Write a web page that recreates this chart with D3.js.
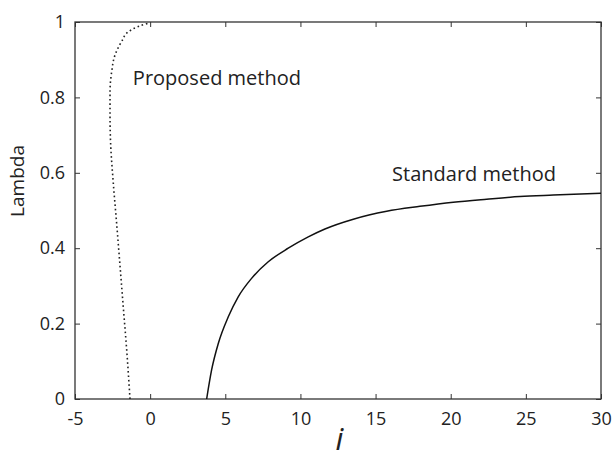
<!DOCTYPE html>
<html lang="en">
  <head>
    <meta charset="UTF-8" />
    <title>Lambda vs i</title>
    <script src="https://cdnjs.cloudflare.com/ajax/libs/d3/7.8.5/d3.min.js"></script>
    <style>
      body,
      html {
        margin: 0;
        padding: 0;
        background: #fff;
      }
      text {
        font-family: "Open Sans", "Noto Sans", sans-serif;
        fill: #222;
      }
    </style>
  </head>
  <body>
    <svg width="616" height="459"></svg>
    <script type="text/javascript">
      const proposedI = [-1.34, -1.56, -1.79, -2.0, -2.23, -2.45, -2.63, -2.67, -2.67, -2.56, -2.34, -1.9, -1.45, -0.79, -0.12];
      const proposedL = [0.0, 0.13, 0.245, 0.351, 0.466, 0.572, 0.678, 0.753, 0.815, 0.868, 0.912, 0.948, 0.974, 0.988, 0.997];

      // Standard method (solid)
      const standardI = [3.76, 4.09, 4.54, 5.2, 5.86, 6.75, 7.86, 9.19, 10.52, 11.63, 13.52, 15.74, 17.95, 20.17, 22.39, 24.6, 26.82, 30];
      const standardL = [0.0, 0.077, 0.148, 0.218, 0.271, 0.32, 0.364, 0.4, 0.43, 0.451, 0.477, 0.498, 0.511, 0.522, 0.53, 0.537, 0.541, 0.546];

      const xTicks = [-5, 0, 5, 10, 15, 20, 25, 30];
      const yTicks = [0, 0.2, 0.4, 0.6, 0.8, 1];

      const svg = d3.select("svg");
      const margin = { left: 75, right: 15, top: 22, bottom: 60 };
      const width = 616 - margin.left - margin.right;
      const height = 459 - margin.top - margin.bottom;

      const x = d3.scaleLinear().domain([-5, 30]).range([0, width]);
      const y = d3.scaleLinear().domain([0, 1]).range([height, 0]);

      const g = svg
        .append("g")
        .attr("transform", `translate(${margin.left},${margin.top})`);

      // hyphen instead of unicode minus, like the original
      const fmt = (d) => String(d);

      function styleAxis(sel) {
        sel.select(".domain").remove();
        sel.selectAll(".tick line").attr("stroke", "#333");
        sel.selectAll("text").attr("font-size", 18).attr("fill", "#222");
      }

      // Axes with inward ticks on all sides
      g.append("g")
        .attr("transform", `translate(0,${height})`)
        .call(d3.axisBottom(x).tickValues(xTicks).tickSize(-5).tickPadding(13).tickFormat(fmt))
        .call(styleAxis);
      g.append("g")
        .call(d3.axisTop(x).tickValues(xTicks).tickSize(-5).tickFormat(""))
        .call(styleAxis);
      g.append("g")
        .call(d3.axisLeft(y).tickValues(yTicks).tickSize(-5).tickPadding(10).tickFormat(fmt))
        .call(styleAxis);
      g.append("g")
        .attr("transform", `translate(${width},0)`)
        .call(d3.axisRight(y).tickValues(yTicks).tickSize(-5).tickFormat(""))
        .call(styleAxis);

      g.append("rect")
        .attr("width", width)
        .attr("height", height)
        .attr("fill", "none")
        .attr("stroke", "#333")
        .attr("stroke-width", 1.3);

      const lineY = d3
        .line()
        .x((d) => x(d[0]))
        .y((d) => y(d[1]))
        .curve(d3.curveMonotoneY);

      const lineX = d3
        .line()
        .x((d) => x(d[0]))
        .y((d) => y(d[1]))
        .curve(d3.curveMonotoneX);

      g.append("path")
        .datum(d3.zip(proposedI, proposedL))
        .attr("d", lineY)
        .attr("fill", "none")
        .attr("stroke", "#222")
        .attr("stroke-width", 1.6)
        .attr("stroke-dasharray", "1.6,2.8");

      g.append("path")
        .datum(d3.zip(standardI, standardL))
        .attr("d", lineX)
        .attr("fill", "none")
        .attr("stroke", "#111")
        .attr("stroke-width", 1.5);

      // Annotations
      g.append("text")
        .attr("x", x(-1.15))
        .attr("y", y(0.833))
        .attr("font-size", 20)
        .text("Proposed method");

      g.append("text")
        .attr("x", x(16.1))
        .attr("y", y(0.578))
        .attr("font-size", 20)
        .text("Standard method");

      // Axis titles
      svg
        .append("text")
        .attr("transform", `translate(24,181) rotate(-90)`)
        .attr("text-anchor", "middle")
        .attr("font-size", 19)
        .text("Lambda");

      svg
        .append("text")
        .attr("x", margin.left + x(12.6))
        .attr("y", 450)
        .attr("text-anchor", "middle")
        .attr("font-family", "'Liberation Serif', serif")
        .attr("font-style", "italic")
        .attr("font-size", 31)
        .text("i");
    </script>
  </body>
</html>
